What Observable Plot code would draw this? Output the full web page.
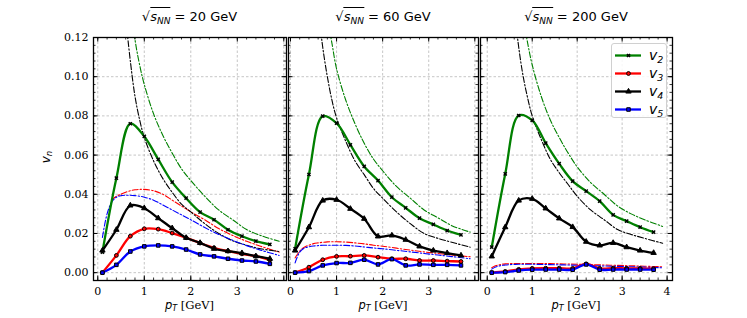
<!DOCTYPE html>
<html><head><meta charset="utf-8">
<script src="https://cdn.jsdelivr.net/npm/d3@7"></script>
<script src="https://cdn.jsdelivr.net/npm/@observablehq/plot@0.6"></script>
<style>
body{margin:0;background:#fff;}
#wrap{position:relative;width:747px;height:318px;overflow:hidden;}
#wrap svg{position:absolute;top:0;overflow:visible;}
.ttl{position:absolute;top:9px;transform:translateX(-50%);font-family:"DejaVu Sans";font-size:13px;white-space:nowrap;color:#000;}
.ttl .ov{border-top:1px solid #000;padding-top:1px;}
.ttl sub{font-size:9px;font-style:italic;vertical-align:-3px;line-height:0;}
.xl{position:absolute;top:298px;transform:translateX(-50%);font-family:"DejaVu Serif";font-size:11.5px;white-space:nowrap;line-height:14px;}
.xl i{font-family:"DejaVu Sans";}
.xl sub{font-size:8px;font-style:italic;font-family:"DejaVu Sans";vertical-align:-2px;line-height:0;}
.yl{position:absolute;left:40px;top:150px;transform:rotate(-90deg);font-family:"DejaVu Sans";font-size:12px;font-style:italic;}
.yl sub{font-size:8.5px;vertical-align:-2px;line-height:0;}
#leg{position:absolute;left:611px;top:43px;width:56px;height:75px;border:1px solid #d0d0d0;border-radius:3px;background:rgba(255,255,255,0.85);box-sizing:border-box;}
#leg .row{position:absolute;left:3px;height:18px;display:flex;align-items:center;}
#leg .lab{font-family:"DejaVu Sans";font-style:italic;font-size:14px;margin-left:8px;}
#leg .lab sub{font-size:9.5px;vertical-align:-3px;line-height:0;}
</style></head><body><div id="wrap"></div>
<script>
// ---------------- data ----------------
const energies = ["20", "60", "200"];
const harmonics = ["2", "3", "4", "5"];
const colors = ["#008000", "#ff0000", "#000000", "#0000ff"];
const symbols = ["times", "circle", "triangle", "square"];

const pT = [0.1, 0.4, 0.7, 1.0, 1.3, 1.6, 1.9, 2.2, 2.5, 2.8, 3.1, 3.4, 3.7];
// sqrt(sNN) = 20 GeV
const v2_20 = [0.0105, 0.0482, 0.0760, 0.0695, 0.0578, 0.0462, 0.0380, 0.0309, 0.0270, 0.0219, 0.0186, 0.0161, 0.0144];
const v3_20 = [0.0000, 0.0088, 0.0186, 0.0224, 0.0222, 0.0202, 0.0178, 0.0151, 0.0127, 0.0110, 0.0096, 0.0084, 0.0065];
const v4_20 = [0.0113, 0.0219, 0.0343, 0.0329, 0.0278, 0.0227, 0.0178, 0.0152, 0.0122, 0.0110, 0.0100, 0.0084, 0.0071];
const v5_20 = [0.0000, 0.0040, 0.0108, 0.0134, 0.0139, 0.0134, 0.0118, 0.0093, 0.0083, 0.0071, 0.0062, 0.0057, 0.0045];
// sqrt(sNN) = 60 GeV
const v2_60 = [0.0122, 0.0501, 0.0799, 0.0763, 0.0652, 0.0542, 0.0470, 0.0385, 0.0331, 0.0278, 0.0246, 0.0215, 0.0193];
const v3_60 = [0.0000, 0.0028, 0.0066, 0.0083, 0.0084, 0.0088, 0.0079, 0.0071, 0.0071, 0.0062, 0.0062, 0.0059, 0.0057];
const v4_60 = [0.0113, 0.0232, 0.0368, 0.0372, 0.0326, 0.0275, 0.0185, 0.0190, 0.0168, 0.0134, 0.0113, 0.0100, 0.0088];
const v5_60 = [0.0000, 0.0008, 0.0037, 0.0049, 0.0050, 0.0066, 0.0042, 0.0069, 0.0037, 0.0042, 0.0040, 0.0040, 0.0037];
// sqrt(sNN) = 200 GeV
const v2_200 = [0.0130, 0.0504, 0.0802, 0.0777, 0.0661, 0.0556, 0.0467, 0.0416, 0.0365, 0.0295, 0.0263, 0.0232, 0.0207];
const v3_200 = [0.0000, 0.0006, 0.0017, 0.0022, 0.0023, 0.0023, 0.0022, 0.0045, 0.0022, 0.0023, 0.0022, 0.0022, 0.0020];
const v4_200 = [0.0083, 0.0232, 0.0368, 0.0377, 0.0328, 0.0277, 0.0233, 0.0158, 0.0139, 0.0152, 0.0130, 0.0113, 0.0101];
const v5_200 = [0.0000, 0.0003, 0.0011, 0.0015, 0.0016, 0.0016, 0.0015, 0.0042, 0.0015, 0.0016, 0.0016, 0.0016, 0.0015];

// dash-dot reference curves
const mX = [0.1, 0.2, 0.3, 0.4, 0.5, 0.6, 0.7, 0.8, 0.9, 1.0, 1.2, 1.4, 1.6, 1.8, 2.0, 2.3, 2.6, 2.9, 3.2, 3.5, 3.9];
const m2_20 = [null, null, null, null, null, null, 0.140, 0.119, 0.106, 0.096, 0.081, 0.070, 0.061, 0.053, 0.047, 0.039, 0.032, 0.027, 0.022, 0.019, 0.016];
const m3_20 = [null, null, 0.037, 0.039, 0.040, 0.041, 0.0418, 0.0423, 0.0425, 0.0425, 0.0418, 0.040, 0.037, 0.034, 0.031, 0.027, 0.0225, 0.019, 0.016, 0.0135, 0.0105];
const m4_20 = [null, null, null, null, null, 0.130, 0.108, 0.090, 0.078, 0.069, 0.057, 0.048, 0.041, 0.035, 0.031, 0.025, 0.020, 0.0163, 0.014, 0.0122, 0.0108];
const m5_20 = [0.018, 0.030, 0.036, 0.0385, 0.0393, 0.0395, 0.0395, 0.0393, 0.039, 0.0385, 0.037, 0.0345, 0.032, 0.0295, 0.027, 0.023, 0.0195, 0.0165, 0.0138, 0.0115, 0.0088];
const m2_60 = [null, null, null, null, null, null, null, 0.130, 0.117, 0.104, 0.088, 0.076, 0.066, 0.058, 0.052, 0.044, 0.038, 0.032, 0.028, 0.024, 0.0207];
const m3_60 = [0.0075, 0.011, 0.013, 0.014, 0.0148, 0.0152, 0.0155, 0.0157, 0.0158, 0.0158, 0.0156, 0.0152, 0.0147, 0.014, 0.0135, 0.0125, 0.0115, 0.0106, 0.0098, 0.009, 0.0081];
const m4_60 = [null, null, null, null, null, 0.135, 0.115, 0.100, 0.088, 0.079, 0.067, 0.057, 0.050, 0.043, 0.038, 0.031, 0.025, 0.020, 0.0175, 0.0155, 0.013];
const m5_60 = [0.005, 0.0105, 0.0125, 0.0132, 0.0136, 0.0138, 0.014, 0.014, 0.014, 0.014, 0.0139, 0.0136, 0.0131, 0.0126, 0.0122, 0.0114, 0.0106, 0.0098, 0.009, 0.0082, 0.0071];
const m2_200 = [null, null, null, null, null, null, null, 0.130, 0.117, 0.106, 0.090, 0.078, 0.069, 0.061, 0.054, 0.046, 0.040, 0.034, 0.030, 0.027, 0.0236];
const m3_200 = [0.0025, 0.0036, 0.0042, 0.0045, 0.0046, 0.0047, 0.0047, 0.0047, 0.0047, 0.0047, 0.0047, 0.0046, 0.0045, 0.0044, 0.0043, 0.0041, 0.0039, 0.0037, 0.0035, 0.0033, 0.003];
const m4_200 = [null, null, null, null, null, 0.135, 0.115, 0.100, 0.089, 0.080, 0.068, 0.058, 0.051, 0.045, 0.039, 0.032, 0.027, 0.022, 0.0195, 0.0175, 0.015];
const m5_200 = [0.0018, 0.003, 0.0036, 0.0039, 0.0041, 0.0042, 0.0043, 0.0043, 0.0043, 0.0043, 0.0042, 0.0041, 0.004, 0.0039, 0.0038, 0.0036, 0.0034, 0.0032, 0.003, 0.0028, 0.0025];

const xTickLabels = [[0, 1, 2, 3], [0, 1, 2, 3], [0, 1, 2, 3, 4]];
const xMajor = [0, 1, 2, 3, 4];
const yMajor = [0, 0.02, 0.04, 0.06, 0.08, 0.10, 0.12];

// ---------------- layout ----------------
const H = 318, MT = 37, MB = 38;
const panels = [
  {left: 0,   width: 286, ml: 93, mr: 0,  xdom: [-0.092, 4.058]},
  {left: 288, width: 190, ml: 0,  mr: 0,  xdom: [-0.043, 4.08]},
  {left: 480, width: 267, ml: 0,  mr: 75, xdom: [-0.15, 4.12]}
];
const meas = [[v2_20, v3_20, v4_20, v5_20], [v2_60, v3_60, v4_60, v5_60], [v2_200, v3_200, v4_200, v5_200]];
const model = [[m2_20, m3_20, m4_20, m5_20], [m2_60, m3_60, m4_60, m5_60], [m2_200, m3_200, m4_200, m5_200]];

const wrap = document.getElementById("wrap");
const xMinor = d3.range(-0.2, 4.21, 0.2).map(d => +d.toFixed(2));
const yMinor = d3.range(-0.004, 0.1201, 0.004).map(d => +d.toFixed(3));
const dotR = [1.6, 1.9, 2.0, 2.0];

panels.forEach((p, i) => {
  const plotH = H - MT - MB, plotW = p.width - p.ml - p.mr;
  const xm = xMinor.filter(d => d >= p.xdom[0] && d <= p.xdom[1]);
  const xM = xMajor.filter(d => d >= p.xdom[0] && d <= p.xdom[1]);
  const marks = [
    Plot.gridX(xM, {stroke: "#b8b8b8", strokeOpacity: 1, strokeWidth: 0.8, strokeDasharray: "2.5,2"}),
    Plot.gridY(yMajor, {stroke: "#b8b8b8", strokeOpacity: 1, strokeWidth: 0.8, strokeDasharray: "2.5,2"})
  ];
  model[i].forEach((arr, k) => {
    const rows = mX.map((x, j) => ({x, y: arr[j]})).filter(d => d.y != null);
    marks.push(Plot.line(rows, {x: "x", y: "y", stroke: colors[k], strokeWidth: 1.1, strokeDasharray: "6,2,1.5,2", curve: "catmull-rom", clip: true}));
  });
  meas[i].forEach((arr, k) => {
    const rows = pT.map((x, j) => ({x, y: arr[j]}));
    marks.push(Plot.line(rows, {x: "x", y: "y", stroke: colors[k], strokeWidth: 2.3, curve: "catmull-rom", clip: true}));
  });
  meas[i].forEach((arr, k) => {
    const rows = pT.map((x, j) => ({x, y: arr[j]}));
    marks.push(Plot.dot(rows, {x: "x", y: "y", symbol: symbols[k], r: dotR[k], stroke: "black", strokeWidth: k === 0 ? 1.4 : 1, fill: k === 2 ? "black" : colors[k]}));
  });
  marks.push(
    Plot.tickX(xM, {x: d => d, insetTop: plotH - 4.5, stroke: "black", strokeWidth: 1}),
    Plot.tickX(xM, {x: d => d, insetBottom: plotH - 4.5, stroke: "black", strokeWidth: 1}),
    Plot.tickX(xm, {x: d => d, insetTop: plotH - 2.5, stroke: "black", strokeWidth: 0.8}),
    Plot.tickX(xm, {x: d => d, insetBottom: plotH - 2.5, stroke: "black", strokeWidth: 0.8}),
    Plot.tickY(yMajor, {y: d => d, insetRight: plotW - 4.5, stroke: "black", strokeWidth: 1}),
    Plot.tickY(yMajor, {y: d => d, insetLeft: plotW - 4.5, stroke: "black", strokeWidth: 1}),
    Plot.tickY(yMinor, {y: d => d, insetRight: plotW - 2.5, stroke: "black", strokeWidth: 0.8}),
    Plot.tickY(yMinor, {y: d => d, insetLeft: plotW - 2.5, stroke: "black", strokeWidth: 0.8}),
    Plot.frame({stroke: "black", strokeWidth: 1.3}),
    Plot.axisX({anchor: "bottom", ticks: xTickLabels[i], tickSize: 0, tickPadding: 7, tickFormat: d3.format("d"), label: null, fontSize: 11})
  );
  if (i === 0) marks.push(Plot.axisY({anchor: "left", ticks: yMajor, tickSize: 0, tickPadding: 5, tickFormat: d3.format(".2f"), label: null, fontSize: 11}));
  const svg = Plot.plot({
    width: p.width, height: H,
    marginLeft: p.ml, marginRight: p.mr, marginTop: MT, marginBottom: MB,
    x: {domain: p.xdom}, y: {domain: [-0.004, 0.12], axis: i === 0 ? undefined : null},
    style: {fontFamily: "DejaVu Serif", fontSize: "11px", background: "transparent", color: "black"},
    marks
  });
  svg.style.left = p.left + "px";
  wrap.appendChild(svg);

  const cx = p.left + p.ml + plotW / 2;
  const t = document.createElement("div");
  t.className = "ttl"; t.style.left = cx + "px";
  t.innerHTML = `√<span class="ov"><i>s</i><sub>NN</sub></span> = ${energies[i]} GeV`;
  wrap.appendChild(t);
  const xl = document.createElement("div");
  xl.className = "xl"; xl.style.left = cx + "px";
  xl.innerHTML = `<i>p</i><sub>T</sub> [GeV]`;
  wrap.appendChild(xl);
});

const yl = document.createElement("div");
yl.className = "yl"; yl.innerHTML = "v<sub>n</sub>";
wrap.appendChild(yl);

const leg = document.createElement("div");
leg.id = "leg";
harmonics.forEach((h, k) => {
  const row = document.createElement("div");
  row.className = "row"; row.style.top = (2 + k * 18) + "px";
  const sym = Plot.plot({
    width: 26, height: 10, margin: 0, x: {domain: [0, 2], axis: null}, y: {domain: [0, 1], axis: null},
    style: {background: "transparent"},
    marks: [
      Plot.ruleY([0.5], {x1: 0, x2: 2, stroke: colors[k], strokeWidth: 2.3}),
      Plot.dot([1], {x: d => d, y: 0.5, symbol: symbols[k], r: dotR[k], stroke: "black", strokeWidth: k === 0 ? 1.4 : 1, fill: k === 2 ? "black" : colors[k]})
    ]
  });
  sym.style.position = "static";
  row.appendChild(sym);
  const lab = document.createElement("span");
  lab.className = "lab"; lab.innerHTML = `v<sub>${h}</sub>`;
  row.appendChild(lab);
  leg.appendChild(row);
});
wrap.appendChild(leg);
</script></body></html>
